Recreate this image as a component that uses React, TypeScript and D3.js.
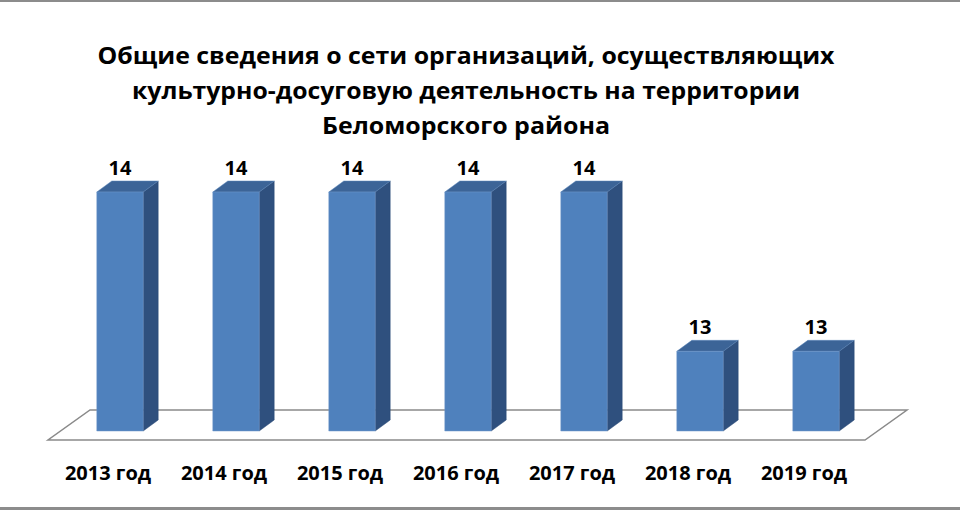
import React, { useEffect } from 'react';
import * as d3 from 'd3';

const years = ['2013 год', '2014 год', '2015 год', '2016 год', '2017 год', '2018 год', '2019 год'];
const counts = [14, 14, 14, 14, 14, 13, 13];
const titleLines = [
  'Общие сведения о сети организаций, осуществляющих',
  'культурно-досуговую деятельность на территории',
  'Беломорского района',
];
// measured widths of the title lines in the reference
const titleWidths = [737, 668, 288];

const W = 960;
const H = 510;
const FONT = '"Open Sans", Lato, "DejaVu Sans", sans-serif';

// 3d offsets (px) for the bar depth and the floor depth
const depth = { dx: 15, dy: -11 };
const floor = { front: 440, back: 410, left: 48, right: 865, dx: 42 };

const App: React.FC = () => {
  useEffect(() => {
    document.body.style.margin = '0';
  }, []);

  const x = d3.scaleBand<string>()
    .domain(years)
    .range([62, 874])
    .paddingInner(0.6)
    .paddingOuter(0.3);

  const y = d3.scaleLinear()
    .domain([12.5, 14])
    .range([431, 192]);

  const bw = x.bandwidth();
  const base = y(12.5);

  const floorPts = [
    [floor.left, floor.front],
    [floor.right, floor.front],
    [floor.right + floor.dx, floor.back],
    [floor.left + floor.dx, floor.back],
  ].map(p => p.join(',')).join(' ');

  return (
    <svg width={W} height={H} style={{ display: 'block', background: '#fff' }}>
      <rect x={0} y={0} width={W} height={2} fill="#8c8c8c" />
      <rect x={0} y={H - 3} width={W} height={3} fill="#8c8c8c" />

      {titleLines.map((t, i) => (
        <text key={i} x={466} y={64 + i * 35} textAnchor="middle"
          textLength={titleWidths[i]} lengthAdjust="spacingAndGlyphs"
          fontFamily={FONT} fontWeight="bold" fontSize={24} fill="#000">{t}</text>
      ))}

      <polygon points={floorPts} fill="#fff" stroke="#8a8a8a" strokeWidth={1.5} />

      {years.map((yr, i) => {
        const x0 = x(yr) || 0;
        const top = y(counts[i]);
        const front = `${x0},${top} ${x0 + bw},${top} ${x0 + bw},${base} ${x0},${base}`;
        const side = `${x0 + bw},${top} ${x0 + bw + depth.dx},${top + depth.dy} ${x0 + bw + depth.dx},${base + depth.dy} ${x0 + bw},${base}`;
        const cap = `${x0},${top} ${x0 + depth.dx},${top + depth.dy} ${x0 + bw + depth.dx},${top + depth.dy} ${x0 + bw},${top}`;
        return (
          <g key={yr}>
            <polygon points={side} fill="#2f507e" stroke="#2a4a76" strokeWidth={0.5} />
            <polygon points={cap} fill="#3c6497" stroke="#5b86bb" strokeWidth={0.5} />
            <polygon points={front} fill="#4f81bd" stroke="#6f97c8" strokeWidth={0.5} />
            <text x={x0 + bw / 2} y={top - 17} textAnchor="middle"
              fontFamily={FONT} fontWeight="bold" fontSize={20} fill="#000">{counts[i]}</text>
            <text x={x0 + bw / 2 - 12} y={480} textAnchor="middle"
              fontFamily={FONT} fontWeight="bold" fontSize={20} fill="#000">{yr}</text>
          </g>
        );
      })}
    </svg>
  );
};

export default App;
